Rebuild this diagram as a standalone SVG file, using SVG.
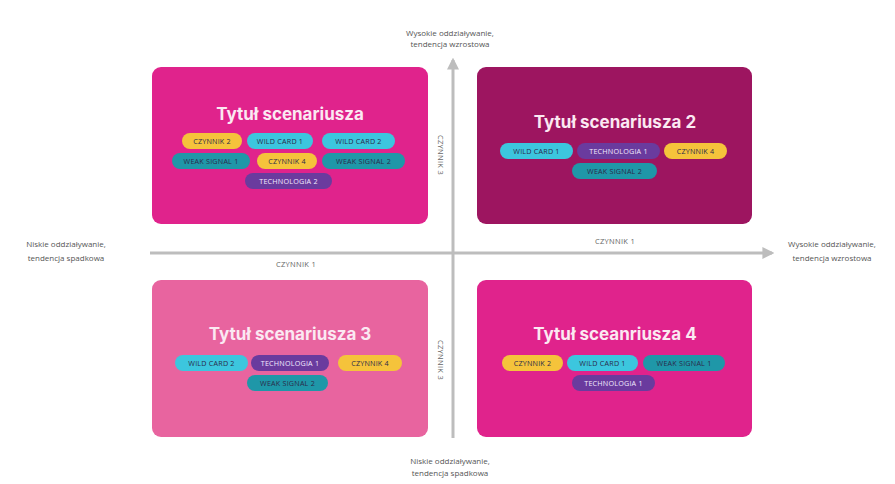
<svg xmlns="http://www.w3.org/2000/svg" width="895" height="484" viewBox="0 0 895 484">
  <style>
    .axis-label { font-family: "Open Sans", "Liberation Sans", sans-serif; font-size: 8px; fill: #555; text-anchor: middle; }
    .factor { font-family: "Open Sans", "Liberation Sans", sans-serif; font-size: 7.5px; fill: #666; text-anchor: middle; letter-spacing: 0.3px; }
    .title { font-family: "Inter", "Open Sans", "Liberation Sans", sans-serif; font-size: 17px; font-weight: 700; fill: #fbe9f2; text-anchor: middle; }
    .chip-text { font-family: "Open Sans", "Liberation Sans", sans-serif; font-size: 7.2px; text-anchor: middle; dominant-baseline: central; letter-spacing: 0.2px; }
    .dark { fill: #2b2b4a; }
    .light { fill: #f2eaff; }
    .axis { stroke: #bdbdbd; stroke-width: 3; fill: none; }
    .yellow { fill: #f5c33b; }
    .cyan { fill: #3cc6de; }
    .teal { fill: #1f97a8; }
    .purple { fill: #6a3b9e; }
  </style>
  <defs>
    <marker id="arrow" viewBox="0 0 10 10" refX="8" refY="5" markerWidth="4" markerHeight="4" orient="auto">
      <path d="M0,0 L10,5 L0,10 z" fill="#bdbdbd"/>
    </marker>
  </defs>

  <rect width="895" height="484" fill="#ffffff"/>

  <!-- quadrant: top left -->
  <g id="scenario-1">
    <rect x="152" y="67" width="276" height="157" rx="9" fill="#e0238c"/>
    <text class="title" x="290" y="120">Tytuł scenariusza</text>
    <rect class="yellow" x="182" y="133" width="60" height="16" rx="8"/>
    <text class="chip-text dark" x="212" y="141">CZYNNIK 2</text>
    <rect class="cyan" x="247" y="133" width="66" height="16" rx="8"/>
    <text class="chip-text dark" x="280" y="141">WILD CARD 1</text>
    <rect class="cyan" x="322" y="133" width="73" height="16" rx="8"/>
    <text class="chip-text dark" x="358.5" y="141">WILD CARD 2</text>
    <rect class="teal" x="172" y="153" width="78" height="16" rx="8"/>
    <text class="chip-text dark" x="211" y="161">WEAK SIGNAL 1</text>
    <rect class="yellow" x="257" y="153" width="60" height="16" rx="8"/>
    <text class="chip-text dark" x="287" y="161">CZYNNIK 4</text>
    <rect class="teal" x="322" y="153" width="83" height="16" rx="8"/>
    <text class="chip-text dark" x="363.5" y="161">WEAK SIGNAL 2</text>
    <rect class="purple" x="245" y="173" width="87" height="16" rx="8"/>
    <text class="chip-text light" x="288.5" y="181">TECHNOLOGIA 2</text>
  </g>

  <!-- quadrant: top right -->
  <g id="scenario-2">
    <rect x="477" y="67" width="275" height="157" rx="9" fill="#9d1560"/>
    <text class="title" x="615" y="128">Tytuł scenariusza 2</text>
    <rect class="cyan" x="500" y="143" width="73" height="16" rx="8"/>
    <text class="chip-text dark" x="536.5" y="151">WILD CARD 1</text>
    <rect class="purple" x="577" y="143" width="83" height="16" rx="8"/>
    <text class="chip-text light" x="618.5" y="151">TECHNOLOGIA 1</text>
    <rect class="yellow" x="664" y="143" width="63" height="16" rx="8"/>
    <text class="chip-text dark" x="695.5" y="151">CZYNNIK 4</text>
    <rect class="teal" x="572" y="163" width="85" height="16" rx="8"/>
    <text class="chip-text dark" x="614.5" y="171">WEAK SIGNAL 2</text>
  </g>

  <!-- quadrant: bottom left -->
  <g id="scenario-3">
    <rect x="152" y="280" width="276" height="157" rx="9" fill="#e8649f"/>
    <text class="title" x="290" y="340">Tytuł scenariusza 3</text>
    <rect class="cyan" x="175" y="355" width="73" height="16" rx="8"/>
    <text class="chip-text dark" x="211.5" y="363">WILD CARD 2</text>
    <rect class="purple" x="251" y="355" width="78" height="16" rx="8"/>
    <text class="chip-text light" x="290" y="363">TECHNOLOGIA 1</text>
    <rect class="yellow" x="338" y="355" width="64" height="16" rx="8"/>
    <text class="chip-text dark" x="370" y="363">CZYNNIK 4</text>
    <rect class="teal" x="247" y="375" width="81" height="16" rx="8"/>
    <text class="chip-text dark" x="287.5" y="383">WEAK SIGNAL 2</text>
  </g>

  <!-- quadrant: bottom right -->
  <g id="scenario-4">
    <rect x="477" y="280" width="275" height="157" rx="9" fill="#e0238c"/>
    <text class="title" x="615" y="340">Tytuł sceanriusza 4</text>
    <rect class="yellow" x="502" y="355" width="61" height="16" rx="8"/>
    <text class="chip-text dark" x="532.5" y="363">CZYNNIK 2</text>
    <rect class="cyan" x="567" y="355" width="71" height="16" rx="8"/>
    <text class="chip-text dark" x="602.5" y="363">WILD CARD 1</text>
    <rect class="teal" x="643" y="355" width="82" height="16" rx="8"/>
    <text class="chip-text dark" x="684" y="363">WEAK SIGNAL 1</text>
    <rect class="purple" x="572" y="375" width="83" height="16" rx="8"/>
    <text class="chip-text light" x="613.5" y="383">TECHNOLOGIA 1</text>
  </g>

  <!-- axes -->
  <g id="connectors">
    <line class="axis" x1="453" y1="438" x2="453" y2="60" marker-end="url(#arrow)"/>
    <line class="axis" x1="150" y1="253" x2="772" y2="253" marker-end="url(#arrow)"/>
  </g>

  <!-- axis labels -->
  <g id="axis-labels">
    <text class="axis-label" x="450" y="36">Wysokie oddziaływanie,</text>
    <text class="axis-label" x="450" y="47">tendencja wzrostowa</text>
    <text class="axis-label" x="450" y="464">Niskie oddziaływanie,</text>
    <text class="axis-label" x="450" y="476">tendencja spadkowa</text>
    <text class="axis-label" x="66" y="247">Niskie oddziaływanie,</text>
    <text class="axis-label" x="66" y="261">tendencja spadkowa</text>
    <text class="axis-label" x="832" y="247">Wysokie oddziaływanie,</text>
    <text class="axis-label" x="832" y="261">tendencja wzrostowa</text>
    <text class="factor" x="296" y="267">CZYNNIK 1</text>
    <text class="factor" x="615" y="244">CZYNNIK 1</text>
    <text class="factor" transform="translate(438,155) rotate(90)">CZYNNIK 3</text>
    <text class="factor" transform="translate(438,360) rotate(90)">CZYNNIK 3</text>
  </g>
</svg>
